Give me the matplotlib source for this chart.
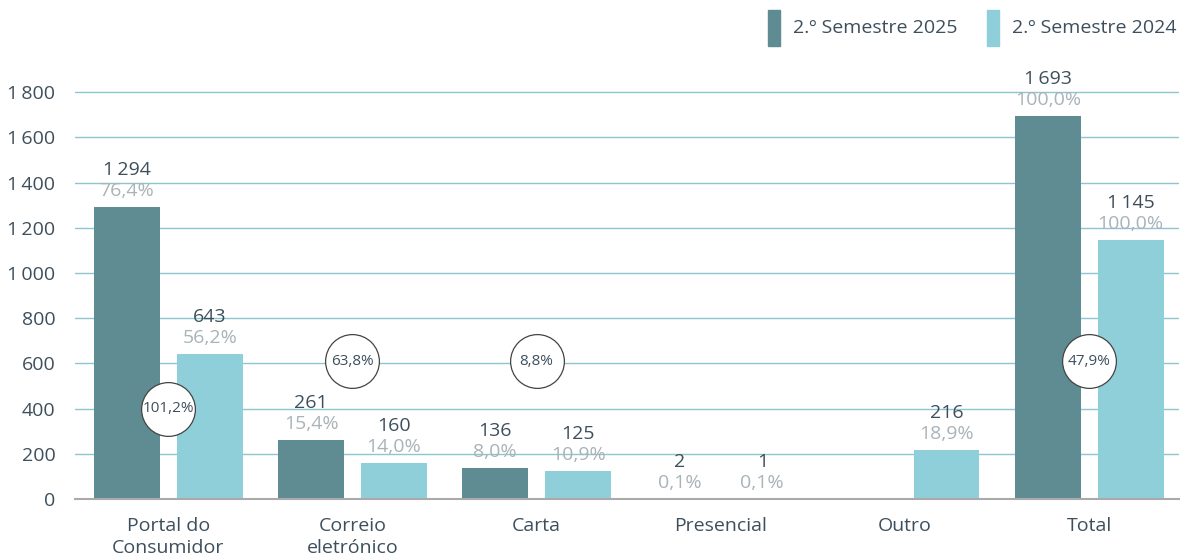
import numpy as np
import matplotlib.pyplot as plt
from matplotlib.patches import Rectangle

plt.rcParams['font.family'] = ['Open Sans', 'DejaVu Sans']

categories = ['Portal do\nConsumidor', 'Correio\neletrónico', 'Carta', 'Presencial', 'Outro', 'Total']
s2025 = [1294, 261, 136, 2, None, 1693]
s2024 = [643, 160, 125, 1, 216, 1145]
pct2025 = ['76,4%', '15,4%', '8,0%', '0,1%', None, '100,0%']
pct2024 = ['56,2%', '14,0%', '10,9%', '0,1%', '18,9%', '100,0%']
growth = ['101,2%', '63,8%', '8,8%', None, None, '47,9%']
growth_y = [400, 610, 610, None, None, 610]
yticks = [0, 200, 400, 600, 800, 1000, 1200, 1400, 1600, 1800]

dark = '#5f8b93'
light = '#8fcfda'
txt = '#3d4f5c'
grey = '#a9b3b8'

fig = plt.figure(figsize=(11.89, 5.59), dpi=100)
ax = fig.add_axes([0.063, 0.107, 0.929, 0.789])

x = np.arange(len(categories))
off, w = 0.225, 0.358

for i in range(len(categories)):
    for v, p, c, xx in [(s2025[i], pct2025[i], dark, x[i] - off), (s2024[i], pct2024[i], light, x[i] + off)]:
        if v is None:
            continue
        ax.bar(xx, v, width=w, color=c, zorder=3)
        lab = '{:,}'.format(v).replace(',', '\u2009')
        ax.annotate(lab, (xx, v), xytext=(0, 37), textcoords='offset pixels',
                    ha='center', va='center', fontsize=14, color=txt)
        ax.annotate(p, (xx, v), xytext=(0, 16), textcoords='offset pixels',
                    ha='center', va='center', fontsize=14, color=grey)
    if growth[i]:
        ax.scatter(x[i], growth_y[i], s=1500, facecolor='white', edgecolor='#444444',
                   linewidth=0.9, zorder=5)
        ax.text(x[i], growth_y[i], growth[i], ha='center', va='center',
                fontsize=11, color=txt, zorder=6)

ax.set_xlim(-0.507, 5.49)
ax.set_ylim(0, 1950)
ax.set_yticks(yticks)
ax.set_yticklabels(['{:,}'.format(t).replace(',', '\u2009') for t in yticks])
ax.set_xticks(x)
ax.set_xticklabels(categories, linespacing=1.3)
ax.tick_params(length=0, labelsize=14, colors=txt)
ax.tick_params(axis='y', pad=14)
ax.tick_params(axis='x', pad=13)
for t in ax.get_yticklabels():
    t.set_horizontalalignment('right')
ax.grid(axis='y', color='#8ec6cd', linewidth=1, zorder=0)
for s in ['top', 'right', 'left']:
    ax.spines[s].set_visible(False)
ax.spines['bottom'].set_color('#aaaaaa')
ax.spines['bottom'].set_linewidth(1.5)
ax.spines['bottom'].set_zorder(4)

# legend
for xl, c, lab in [(768, dark, '2.º Semestre 2025'), (987, light, '2.º Semestre 2024')]:
    fig.patches.append(Rectangle((xl / 1189, 1 - 46 / 559), 12 / 1189, 36 / 559,
                                 transform=fig.transFigure, color=c))
    fig.text((xl + 25) / 1189, 1 - 28 / 559, lab, ha='left', va='center', fontsize=14, color=txt)

fig.savefig('out.png', dpi=100)
